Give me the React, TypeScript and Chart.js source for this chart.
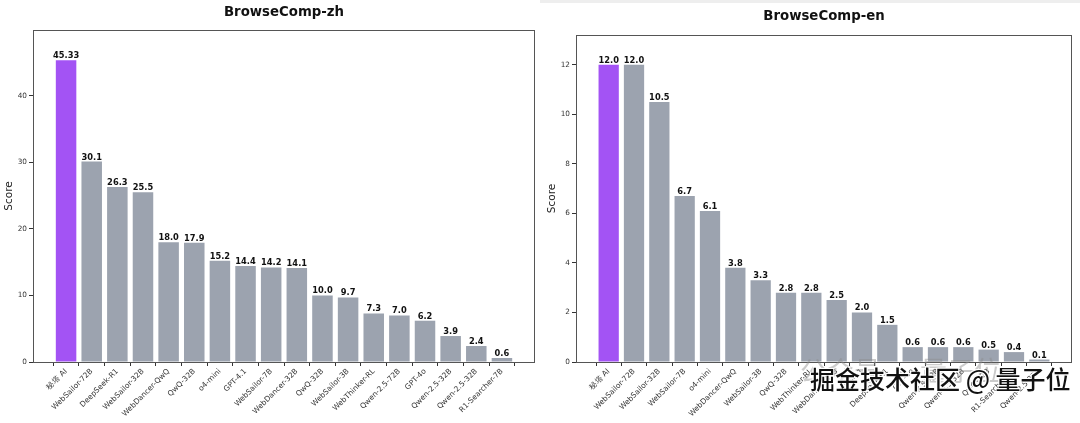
import React, { useEffect, useRef } from "react";
import { Chart, registerables } from "chart.js";

Chart.register(...registerables);

// ---- data ----
const zhTitle = "BrowseComp-zh";
const zhLabels = [
  "秘塔 AI", "WebSailor-72B", "DeepSeek-R1", "WebSailor-32B", "WebDancer-QwQ", "QwQ-32B",
  "o4-mini", "GPT-4.1", "WebSailor-7B", "WebDancer-32B", "QwQ-32B", "WebSailor-3B",
  "WebThinker-RL", "Qwen-2.5-72B", "GPT-4o", "Qwen-2.5-32B", "Qwen-2.5-32B", "R1-Searcher-7B",
];
const zhScores = [45.33, 30.1, 26.3, 25.5, 18.0, 17.9, 15.2, 14.4, 14.2, 14.1, 10.0, 9.7, 7.3, 7.0, 6.2, 3.9, 2.4, 0.6];
const zhTicks = [0, 10, 20, 30, 40];

const enTitle = "BrowseComp-en";
const enLabels = [
  "秘塔 AI", "WebSailor-72B", "WebSailor-32B", "WebSailor-7B", "o4-mini", "WebDancer-QwQ",
  "WebSailor-3B", "QwQ-32B", "WebThinker-RL", "WebDancer-32B", "GPT-4.1", "DeepSeek-R1",
  "GPT-4o", "Qwen-2.5-72B", "Qwen-2.5-32B", "QwQ-32B", "R1-Searcher-7B", "Qwen-2.5-32B",
];
const enScores = [12.0, 12.0, 10.5, 6.7, 6.1, 3.8, 3.3, 2.8, 2.8, 2.5, 2.0, 1.5, 0.6, 0.6, 0.6, 0.5, 0.4, 0.1];
const enTicks = [0, 2, 4, 6, 8, 10, 12];

const highlightColor = "#a353f4";
const baseColor = "#9ca3af";
const FONT = '"DejaVu Sans", sans-serif';

type Spec = {
  title: string;
  labels: string[];
  values: number[];
  ticks: number[];
  yAxisWidth: number;
  padRight: number;
  padTop: number;
  titleY: number;
  scorePad: number;
};

const fmt = (v: number) => (Math.abs(v * 10 - Math.round(v * 10)) < 1e-9 ? v.toFixed(1) : v.toFixed(2));

function BarPanel({ spec }: { spec: Spec }) {
  const ref = useRef<HTMLCanvasElement | null>(null);
  useEffect(() => {
    if (!ref.current) return;
    const { labels, values, ticks } = spec;
    const n = values.length;
    const margin = 0.05 * (n - 1 + 0.8);
    const xmin = -0.4 - margin;
    const xmax = n - 1 + 0.4 + margin;
    const ymax = Math.max(...values) * 1.1;

    const decor = {
      id: "decor",
      afterDatasetsDraw(chart: any) {
        const ctx = chart.ctx as CanvasRenderingContext2D;
        const ca = chart.chartArea;
        ctx.save();
        const meta = chart.getDatasetMeta(0);
        ctx.font = `bold 8.3px ${FONT}`;
        ctx.fillStyle = "#111";
        ctx.textAlign = "center";
        ctx.textBaseline = "alphabetic";
        meta.data.forEach((el: any, i: number) => {
          ctx.fillText(fmt(values[i]), el.x, el.y - 2);
        });
        ctx.strokeStyle = "#555";
        ctx.lineWidth = 1;
        ctx.strokeRect(Math.round(ca.left) + 0.5, Math.round(ca.top) + 0.5, Math.round(ca.width) - 1, Math.round(ca.height));
        ctx.font = `bold 13.3px ${FONT}`;
        ctx.fillStyle = "#111";
        ctx.textBaseline = "middle";
        ctx.fillText(spec.title, (ca.left + ca.right) / 2, spec.titleY);
        ctx.restore();
      },
    };

    const chart = new Chart(ref.current, {
      type: "bar",
      data: {
        datasets: [
          {
            data: values.map((v, i) => ({ x: i, y: v })),
            backgroundColor: values.map((_, i) => (i === 0 ? highlightColor : baseColor)),
            borderWidth: 0,
            barPercentage: 0.8,
            categoryPercentage: 1,
          },
        ],
      },
      options: {
        animation: false,
        responsive: false,
        layout: { padding: { left: 0, right: spec.padRight, top: spec.padTop, bottom: 0 } },
        plugins: { legend: { display: false }, tooltip: { enabled: false }, title: { display: false } },
        scales: {
          x: {
            type: "linear",
            min: xmin,
            max: xmax,
            offset: false,
            border: { display: false },
            grid: { display: true, drawOnChartArea: false, drawTicks: true, tickLength: 4, color: "#333", lineWidth: 1 },
            afterBuildTicks: (scale: any) => {
              scale.ticks = labels.map((_, i) => ({ value: i }));
            },
            afterFit: (scale: any) => {
              scale.height = 61;
              scale.paddingLeft = 0;
              scale.paddingRight = 0;
            },
            ticks: {
              autoSkip: false,
              minRotation: 45,
              maxRotation: 45,
              padding: 1,
              color: "#333",
              font: { family: FONT, size: 7.5 },
              callback: (value: any) => labels[Math.round(Number(value))] ?? "",
            },
          },
          y: {
            type: "linear",
            min: 0,
            max: ymax,
            border: { display: false },
            grid: { display: true, drawOnChartArea: false, drawTicks: true, tickLength: 4, color: "#333", lineWidth: 1 },
            afterBuildTicks: (scale: any) => {
              scale.ticks = ticks.map((t) => ({ value: t }));
            },
            afterFit: (scale: any) => {
              scale.width = spec.yAxisWidth;
              scale.paddingTop = 0;
              scale.paddingBottom = 0;
            },
            ticks: {
              padding: 2,
              color: "#333",
              font: { family: FONT, size: 7.3 },
              callback: (value: any) => String(value),
            },
            title: {
              display: true,
              text: "Score",
              color: "#222",
              padding: { top: spec.scorePad, bottom: 0 },
              font: { family: FONT, size: 10.5 },
            },
          },
        },
      } as any,
      plugins: [decor],
    });
    return () => chart.destroy();
  }, [spec]);
  return <canvas ref={ref} width={540} height={423} style={{ display: "block", width: 540, height: 423 }} />;
}

const zhSpec: Spec = {
  title: zhTitle, labels: zhLabels, values: zhScores, ticks: zhTicks,
  yAxisWidth: 33, padRight: 5, padTop: 30, titleY: 13, scorePad: 3,
};
const enSpec: Spec = {
  title: enTitle, labels: enLabels, values: enScores, ticks: enTicks,
  yAxisWidth: 36, padRight: 8, padTop: 35, titleY: 17, scorePad: 6,
};

export default function App() {
  return (
    <div style={{ position: "fixed", left: 0, top: 0, width: 1080, height: 423, background: "#fff", overflow: "hidden" }}>
      <div style={{ position: "absolute", left: 0, top: 0 }}>
        <BarPanel spec={zhSpec} />
      </div>
      <div style={{ position: "absolute", left: 540, top: 0 }}>
        <BarPanel spec={enSpec} />
      </div>
      <div style={{ position: "absolute", left: 540, top: 0, width: 540, height: 3, background: "#eeeeee" }} />
      <div
        style={{
          position: "absolute", left: 800, top: 350, fontFamily: '"Noto Sans CJK SC", sans-serif',
          fontSize: 27, color: "rgba(140,140,140,0.45)", whiteSpace: "nowrap",
        }}
      >
        公众号 · 量子位
      </div>
      <div
        style={{
          position: "absolute", left: 810, top: 362, fontFamily: '"Noto Sans CJK SC", sans-serif',
          fontSize: 25, fontWeight: 500, color: "#111", whiteSpace: "nowrap", lineHeight: "32px",
          textShadow: "1px 1px 0 #fff, -1px -1px 0 #fff, 1px -1px 0 #fff, -1px 1px 0 #fff",
        }}
      >
        掘金技术社区 @ 量子位
      </div>
    </div>
  );
}
